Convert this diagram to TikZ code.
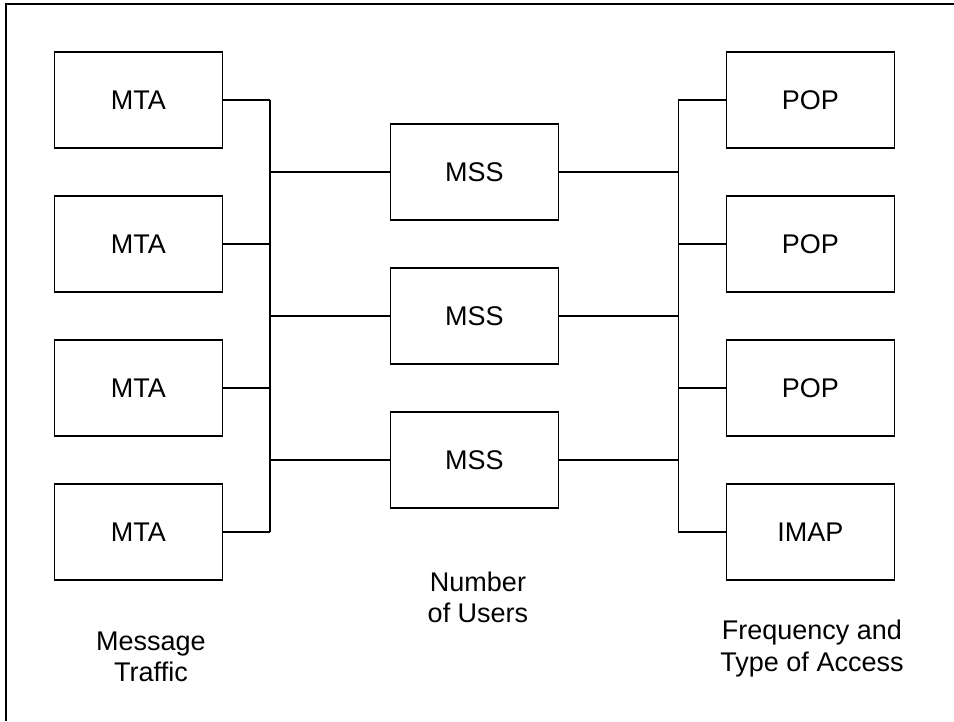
\documentclass[tikz,border=0pt]{standalone}
\usepackage{fontspec}
\setmainfont{Liberation Sans}
\begin{document}
\begin{tikzpicture}[x=1pt,y=-1pt,
  line width=1.3pt,
  unit/.style={draw=black, minimum width=168pt, minimum height=96pt,
    inner sep=0pt, font=\fontsize{27}{31.5}\selectfont},
  caption/.style={align=center, anchor=base, inner sep=0pt,
    font=\fontsize{27}{31.5}\selectfont},
  wire/.style={draw=black, line width=1.3pt}]
  \useasboundingbox (0,0) rectangle (954,721);
  \fill[white] (0,0) rectangle (954,721);

  % outer frame (top and left edges)
  \draw[line width=1.3pt] (6,721) -- (6,4) -- (954,4);

  % message transfer agents
  \node[unit] (mta1) at (138.3,100) {MTA};
  \node[unit] (mta2) at (138.3,244) {MTA};
  \node[unit] (mta3) at (138.3,388) {MTA};
  \node[unit] (mta4) at (138.3,532) {MTA};

  % message store servers
  \node[unit] (mss1) at (474.3,172) {MSS};
  \node[unit] (mss2) at (474.3,316) {MSS};
  \node[unit] (mss3) at (474.3,460) {MSS};

  % access servers
  \node[unit] (pop1) at (810.3,100) {POP};
  \node[unit] (pop2) at (810.3,244) {POP};
  \node[unit] (pop3) at (810.3,388) {POP};
  \node[unit] (imap) at (810.3,532) {IMAP};

  % left bus junctions
  \coordinate (la1) at (270,100);
  \coordinate (la2) at (270,244);
  \coordinate (la3) at (270,388);
  \coordinate (la4) at (270,532);
  \coordinate (lb1) at (270,172);
  \coordinate (lb2) at (270,316);
  \coordinate (lb3) at (270,460);

  % right bus junctions
  \coordinate (ra1) at (678.3,100);
  \coordinate (ra2) at (678.3,244);
  \coordinate (ra3) at (678.3,388);
  \coordinate (ra4) at (678.3,532);
  \coordinate (rb1) at (678.3,172);
  \coordinate (rb2) at (678.3,316);
  \coordinate (rb3) at (678.3,460);

  % left bus
  \path[wire] (la1) -- (la4);
  \path[wire] (mta1.east) -- (la1);
  \path[wire] (mta2.east) -- (la2);
  \path[wire] (mta3.east) -- (la3);
  \path[wire] (mta4.east) -- (la4);
  \path[wire] (lb1) -- (mss1.west);
  \path[wire] (lb2) -- (mss2.west);
  \path[wire] (lb3) -- (mss3.west);

  % right bus
  \path[wire] (ra1) -- (ra4);
  \path[wire] (mss1.east) -- (rb1);
  \path[wire] (mss2.east) -- (rb2);
  \path[wire] (mss3.east) -- (rb3);
  \path[wire] (ra1) -- (pop1.west);
  \path[wire] (ra2) -- (pop2.west);
  \path[wire] (ra3) -- (pop3.west);
  \path[wire] (ra4) -- (imap.west);

  % captions (anchored at the baseline of the last line)
  \node[caption] (traffic) at (151,681.7) {Message\\Traffic};
  \node[caption] (users) at (478,622.7) {Number\\of Users};
  \node[caption] (access) at (812,671) {Frequency and\\Type of Access};
\end{tikzpicture}
\end{document}
